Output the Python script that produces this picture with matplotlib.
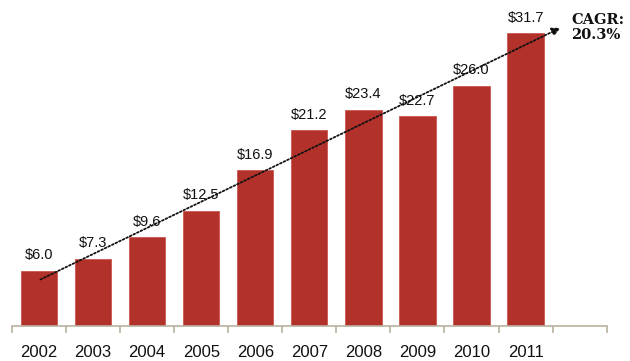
import matplotlib
matplotlib.use("Agg")
import matplotlib.pyplot as plt

years = ["2002", "2003", "2004", "2005", "2006", "2007", "2008", "2009", "2010", "2011"]
values = [6.0, 7.3, 9.6, 12.5, 16.9, 21.2, 23.4, 22.7, 26.0, 31.7]
cagr_label = "CAGR:\n20.3%"

fig = plt.figure(figsize=(6.3, 3.61), dpi=100)
ax = fig.add_axes([0.019, 0.097, 0.944, 0.87])

x = list(range(len(years)))
bars = ax.bar(x, values, width=0.67, color="#B3312B", edgecolor="#C9574F", linewidth=0.6, zorder=2)

for xi, v in zip(x, values):
    ax.annotate(f"${v:.1f}", (xi, v), xytext=(0, 6), textcoords="offset points",
                ha="center", va="bottom", fontsize=10.5, family="Liberation Sans", color="#111111")

ax.set_xlim(-0.5, len(years) + 0.5)
ax.set_ylim(0, 34)

for s in ["top", "right", "left"]:
    ax.spines[s].set_visible(False)
ax.spines["bottom"].set_color("#B9B29E")
ax.spines["bottom"].set_linewidth(1.2)
ax.set_yticks([])

ax.set_xticks(x)
ax.set_xticklabels(years, fontsize=12, family="Liberation Sans", color="#111111")
ax.tick_params(axis="x", which="major", length=0, pad=14)
ax.set_xticks([i - 0.5 for i in range(len(years) + 2)], minor=True)
ax.tick_params(axis="x", which="minor", length=5, width=1.2, color="#B9B29E", direction="out")

ax.annotate("", xy=(9.69, 32.4), xytext=(-0.02, 4.9),
            arrowprops=dict(arrowstyle="-|>", linestyle=(0, (1, 1.2)), color="#111111",
                            linewidth=1.3, mutation_scale=12), zorder=3)

fig.text(0.907, 0.965, cagr_label, ha="left", va="top", fontsize=10.5, fontweight="bold",
         family="DejaVu Serif", color="#111111", linespacing=1.1)

fig.savefig("out.png", dpi=100)
